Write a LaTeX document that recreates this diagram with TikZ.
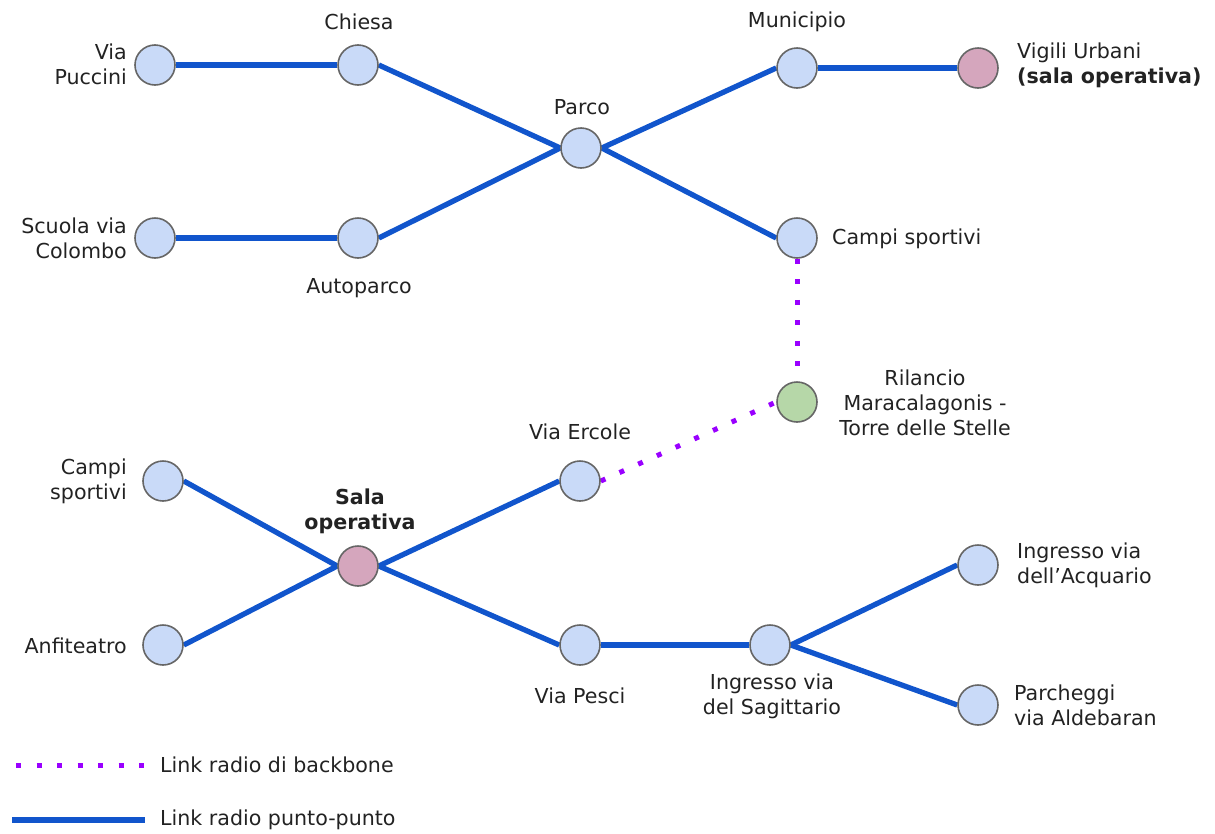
\documentclass[tikz,border=0pt]{standalone}
\usepackage{fontspec}
\setmainfont{DejaVu Sans}
\usetikzlibrary{backgrounds}
\definecolor{nodeblue}{HTML}{C9DAF8}
\definecolor{nodepink}{HTML}{D5A6BD}
\definecolor{nodegreen}{HTML}{B6D7A8}
\definecolor{nodeedge}{HTML}{666666}
\definecolor{linkblue}{HTML}{1155CC}
\definecolor{linkpurple}{HTML}{9900FF}
\definecolor{txt}{HTML}{222222}
\tikzset{
  stn/.style={circle, draw=nodeedge, line width=1.6pt, fill=nodeblue, minimum size=40pt, inner sep=0pt},
  pink/.style={stn, fill=nodepink},
  green/.style={stn, fill=nodegreen},
  lbl/.style={inner sep=0pt, text=txt, font=\fontsize{20.6}{24.8}\selectfont},
  ptp/.style={draw=linkblue, line width=5.3pt},
  bbone/.style={draw=linkpurple, line width=5pt, dash pattern=on 5pt off 15.5pt},
}
\begin{document}
\begin{tikzpicture}[x=1pt,y=-1pt]
\useasboundingbox (0,0) rectangle (1215,833);
% stations
\node[stn] (puccini) at (155,65) {};
\node[stn] (chiesa) at (358,65) {};
\node[stn] (parco) at (581,148) {};
\node[stn] (scuola) at (155,238) {};
\node[stn] (autoparco) at (358,238) {};
\node[stn] (municipio) at (797,68) {};
\node[pink] (vigili) at (978,68) {};
\node[stn] (campi) at (797,238) {};
\node[green] (rilancio) at (797,402) {};
\node[stn] (ercole) at (580,481) {};
\node[stn] (campib) at (163,481) {};
\node[pink] (sala) at (358,566) {};
\node[stn] (anfi) at (163,645) {};
\node[stn] (pesci) at (580,645) {};
\node[stn] (sagitt) at (770,645) {};
\node[stn] (acquario) at (978,565) {};
\node[stn] (parcheggi) at (978,705) {};
% labels
\node[lbl, anchor=east, align=right] (lpuccini) at (127,64.5) {Via\\Puccini};
\node[lbl] (lchiesa) at (359,22) {Chiesa};
\node[lbl] (lparco) at (582,107) {Parco};
\node[lbl, anchor=east, align=right] (lscuola) at (127,238) {Scuola via\\Colombo};
\node[lbl] (lautoparco) at (359,288) {Autoparco};
\node[lbl] (lmunicipio) at (797,22) {Municipio};
\node[lbl, anchor=west, align=left] (lvigili) at (1017,65) {Vigili Urbani\\\textbf{(sala operativa)}};
\node[lbl, anchor=west] (lcampi) at (832,239) {Campi sportivi};
\node[lbl, align=center] (lrilancio) at (925,403) {Rilancio\\Maracalagonis -\\Torre delle Stelle};
\node[lbl] (lercole) at (580,432) {Via Ercole};
\node[lbl, anchor=east, align=right] (lcampib) at (127,481) {Campi\\sportivi};
\node[lbl, align=center, font=\fontsize{20.6}{24.8}\selectfont\bfseries] (lsala) at (360,511) {Sala\\operativa};
\node[lbl, anchor=east] (lanfi) at (127,646) {Anfiteatro};
\node[lbl] (lpesci) at (580,696) {Via Pesci};
\node[lbl, align=center] (lsagitt) at (772,696) {Ingresso via\\del Sagittario};
\node[lbl, anchor=west, align=left] (lacquario) at (1017,565) {Ingresso via\\dell’Acquario};
\node[lbl, anchor=west, align=left] (lparcheggi) at (1014,705) {Parcheggi\\via Aldebaran};
% legend
\coordinate (bb1) at (16,765);
\coordinate (bb2) at (146,765);
\coordinate (pp1) at (12,820);
\coordinate (pp2) at (145,820);
\node[lbl, anchor=west] (lbb) at (160,765) {Link radio di backbone};
\node[lbl, anchor=west] (lpp) at (160,820) {Link radio punto-punto};
\begin{pgfonlayer}{background}
\draw[ptp] (puccini) -- (chiesa);
\draw[ptp] (scuola) -- (autoparco);
\draw[ptp] (chiesa.east) -- (parco.west);
\draw[ptp] (autoparco.east) -- (parco.west);
\draw[ptp] (parco.east) -- (municipio.west);
\draw[ptp] (parco.east) -- (campi.west);
\draw[ptp] (municipio) -- (vigili);
\draw[ptp] (campib.east) -- (sala.west);
\draw[ptp] (anfi.east) -- (sala.west);
\draw[ptp] (sala.east) -- (ercole.west);
\draw[ptp] (sala.east) -- (pesci.west);
\draw[ptp] (pesci) -- (sagitt);
\draw[ptp] (sagitt.east) -- (acquario.west);
\draw[ptp] (sagitt.east) -- (parcheggi.west);
\draw[bbone] (campi.south) -- (rilancio.north);
\draw[bbone] (ercole.east) -- (rilancio.west);
\draw[bbone] (bb1) -- (bb2);
\draw[ptp] (pp1) -- (pp2);
\end{pgfonlayer}
\end{tikzpicture}
\end{document}
